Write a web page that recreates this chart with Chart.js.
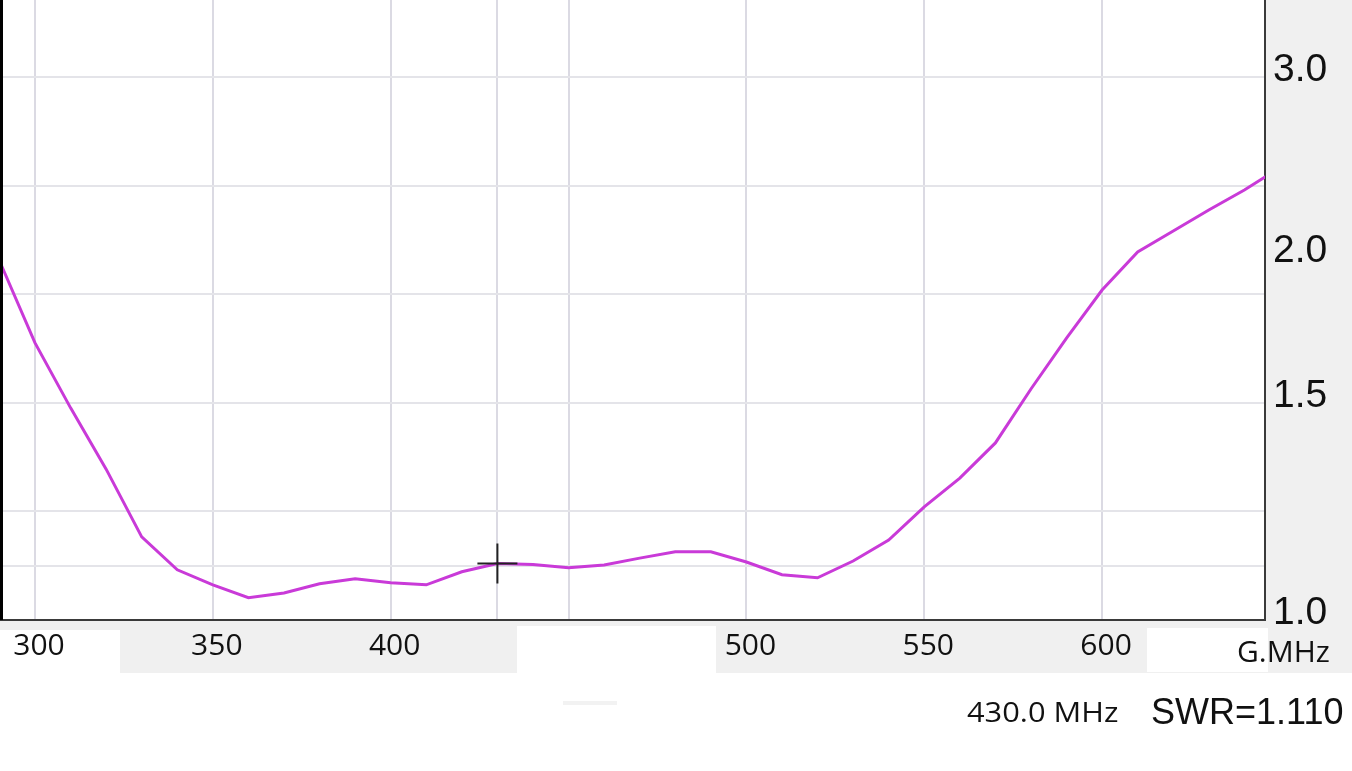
<!DOCTYPE html>
<html lang="en">
<head>
  <meta charset="UTF-8" />
  <title>SWR Sweep</title>
  <script src="https://cdn.jsdelivr.net/npm/chart.js"></script>
  <style>
    html, body { margin: 0; padding: 0; background: #fff; }
    #wrap { width: 1352px; height: 771px; position: relative; }
  </style>
</head>
<body>
  <div id="wrap">
    <canvas id="swrCanvas"></canvas>
  </div>

  <script>
    // sweep, 10 MHz steps
    const freqs = [290, 300, 310, 320, 330, 340, 350, 360, 370, 380, 390, 400, 410, 420,
      430, 440, 450, 460, 470, 480, 490, 500, 510, 520, 530, 540, 550, 560,
      570, 580, 590, 600, 610, 620, 630, 640, 650];
    const swr = [1.99, 1.686, 1.486, 1.323, 1.166, 1.097, 1.067, 1.042, 1.051, 1.069, 1.079, 1.071, 1.067, 1.093,
      1.110, 1.108, 1.101, 1.107, 1.121, 1.134, 1.134, 1.113, 1.087, 1.081, 1.115, 1.159, 1.233, 1.301,
      1.390, 1.541, 1.702, 1.874, 2.027, 2.118, 2.215, 2.313, 2.43];

    // marker
    const cursorFreq = 430.0;
    const cursorSwr = 1.110;

    // axes
    const xMin = 290.16;
    const xMax = 645.8;
    const xGrid = [300, 350, 400, 430, 450, 500, 550, 600];
    const xLabels = [300, 350, 400, 500, 550, 600];
    const gammaGrid = [0.05, 0.1, 0.2, 0.3, 0.4, 0.5];
    const swrLabels = [1.0, 1.5, 2.0, 3.0];
    const gammaMax = 0.5714;

    const toGamma = s => (s - 1) / (s + 1);
    const toSwr = g => (1 + g) / (1 - g);

    const yTicks = [...new Set([...gammaGrid, ...swrLabels.map(toGamma)])].sort((a, b) => a - b);
    const isLabel = g => swrLabels.some(s => Math.abs(toGamma(s) - g) < 1e-6);
    const isGrid = g => gammaGrid.some(v => Math.abs(v - g) < 1e-6);

    const backdrop = {
      id: 'backdrop',
      beforeDraw(chart) {
        const c = chart.ctx;
        c.save();
        c.fillStyle = '#fff';
        c.fillRect(0, 0, chart.width, chart.height);
        c.fillStyle = '#f0f0f0';
        c.fillRect(1266, 0, 86, 673);
        c.fillRect(0, 621, 1352, 52);
        c.fillStyle = '#fff';
        c.fillRect(0, 630, 120, 43);
        c.fillRect(517, 626, 199, 47);
        c.fillRect(1147, 628, 121, 44);
        c.fillStyle = '#f2f2f2';
        c.fillRect(563, 701, 54, 4);
        c.restore();
      },
      afterDraw(chart) {
        const c = chart.ctx;
        const a = chart.chartArea;
        c.save();
        c.strokeStyle = '#000';
        c.lineWidth = 3;
        c.beginPath();
        c.moveTo(a.left + 1.5, 0);
        c.lineTo(a.left + 1.5, a.bottom);
        c.stroke();

        c.fillStyle = '#111';
        c.textBaseline = 'middle';
        c.font = '30px "Open Sans"';
        c.fillText('G.MHz', 1237, 653);

        c.save();
        c.translate(967, 714);
        c.scale(1.1, 1);
        c.font = '28px "Open Sans"';
        c.fillText(cursorFreq.toFixed(1) + ' MHz', 0, 0);
        c.restore();

        c.font = '36px "Liberation Sans"';
        c.fillText('SWR=' + cursorSwr.toFixed(3), 1151, 714);
        c.restore();
      }
    };

    const ctx = document.getElementById('swrCanvas').getContext('2d');
    new Chart(ctx, {
      type: 'line',
      data: {
        datasets: [{
          label: 'cursor',
          data: [{ x: cursorFreq, y: toGamma(cursorSwr) }],
          showLine: false,
          pointStyle: 'cross',
          pointRadius: 20,
          pointBorderColor: '#222',
          pointBorderWidth: 2,
          pointBackgroundColor: '#222'
        }, {
          label: 'SWR',
          data: freqs.map((f, i) => ({ x: f, y: toGamma(swr[i]) })),
          borderColor: '#c93ad8',
          borderWidth: 3,
          tension: 0,
          pointRadius: 0
        }]
      },
      options: {
        responsive: true,
        maintainAspectRatio: false,
        animation: false,
        layout: { padding: 0, autoPadding: false },
        plugins: {
          legend: { display: false },
          tooltip: { enabled: false }
        },
        scales: {
          x: {
            type: 'linear',
            position: 'bottom',
            min: xMin,
            max: xMax,
            afterBuildTicks: scale => { scale.ticks = xGrid.map(v => ({ value: v })); },
            afterFit: scale => {
              scale.height = 151;
              scale.paddingLeft = 0;
              scale.paddingRight = 0;
            },
            ticks: {
              autoSkip: false,
              maxRotation: 0,
              padding: 8,
              labelOffset: 4,
              color: '#111',
              font: { family: 'Open Sans', size: 30 },
              callback: v => xLabels.includes(v) ? String(v) : ''
            },
            grid: {
              color: '#dbdae3',
              lineWidth: 2,
              drawTicks: false
            },
            border: { color: '#3a3a3a', width: 2 }
          },
          y: {
            type: 'linear',
            position: 'right',
            min: 0,
            max: gammaMax,
            afterBuildTicks: scale => { scale.ticks = yTicks.map(v => ({ value: v })); },
            afterFit: scale => {
              scale.width = 87;
              scale.paddingTop = 0;
              scale.paddingBottom = 0;
            },
            ticks: {
              autoSkip: false,
              padding: 8,
              labelOffset: -7,
              color: '#111',
              font: { family: 'Liberation Sans', size: 39 },
              callback: v => isLabel(v) ? toSwr(v).toFixed(1) : ''
            },
            grid: {
              color: c => isGrid(c.tick.value) ? '#e4e4e9' : 'rgba(0,0,0,0)',
              lineWidth: 2,
              drawTicks: false
            },
            border: { color: '#3a3a3a', width: 2 }
          }
        }
      },
      plugins: [backdrop]
    });
  </script>
</body>
</html>
